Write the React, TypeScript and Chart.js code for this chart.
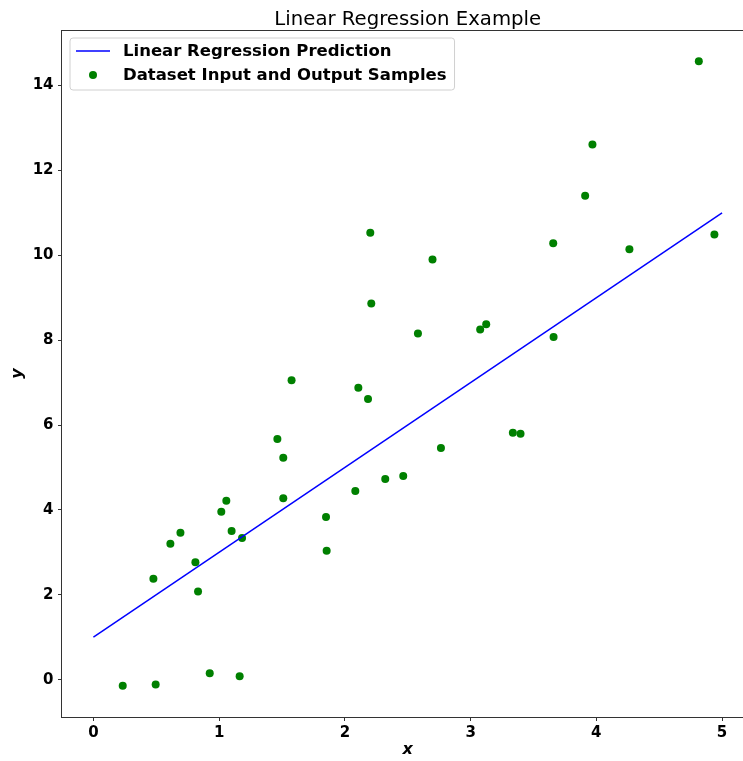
import React, { useEffect, useRef } from "react";
import { Chart, registerables } from "chart.js";

Chart.register(...registerables);

const titleText = "Linear Regression Example";
const lineLabel = "Linear Regression Prediction";
const sampleLabel = "Dataset Input and Output Samples";
const xTitle = "x";
const yTitle = "y";

const xTicks = [0, 1, 2, 3, 4, 5];
const yTicks = [0, 2, 4, 6, 8, 10, 12, 14];
const xRange = [-0.25, 5.25];
const yRange = [-0.88, 15.31];

const lineX = [0, 5];
const lineY = [1, 11];

const sampleX = [
  0.233, 0.495, 0.477, 0.612, 0.692, 0.811, 0.832, 0.925, 1.017, 1.057,
  1.099, 1.182, 1.163, 1.463, 1.51, 1.51, 1.576, 1.85, 1.855, 2.083,
  2.107, 2.184, 2.202, 2.21, 2.321, 2.464, 2.581, 2.697, 2.764, 3.076,
  3.124, 3.336, 3.397, 3.66, 3.657, 3.911, 3.969, 4.263, 4.815, 4.939,
];
const sampleY = [
  -0.146, -0.113, 2.377, 3.203, 3.462, 2.764, 2.08, 0.153, 3.958, 4.217,
  3.502, 3.337, 0.083, 5.672, 5.231, 4.274, 7.057, 3.833, 3.038, 4.446,
  6.882, 6.616, 10.531, 8.863, 4.729, 4.8, 8.16, 9.899, 5.46, 8.25,
  8.377, 5.821, 5.797, 8.075, 10.283, 11.403, 12.613, 10.146, 14.571, 10.491,
];

const FONT = '"DejaVu Sans", "Liberation Sans", sans-serif';
const CANVAS_W = 790;
const CANVAS_H = 761;

const framePlugin = {
  id: "mplFrame",
  afterDatasetsDraw(chart: any) {
    const { ctx, chartArea } = chart;
    ctx.save();
    ctx.strokeStyle = "#333333";
    ctx.lineWidth = 1;
    const l = Math.round(chartArea.left) - 0.5;
    const t = Math.round(chartArea.top) + 0.5;
    const r = Math.round(chartArea.right) + 0.5;
    const b = Math.round(chartArea.bottom) + 0.5;
    ctx.strokeRect(l, t, r - l, b - t);
    ctx.restore();
  },
};

const titlePlugin = {
  id: "mplTitle",
  afterDraw(chart: any) {
    const { ctx, chartArea } = chart;
    ctx.save();
    ctx.font = `19.7px ${FONT}`;
    ctx.fillStyle = "#000";
    ctx.textAlign = "center";
    ctx.textBaseline = "alphabetic";
    ctx.fillText(titleText, (chartArea.left + chartArea.right) / 2, chartArea.top - 5);
    ctx.restore();
  },
};

const legendPlugin = {
  id: "mplLegend",
  afterDatasetsDraw(chart: any) {
    const { ctx, chartArea } = chart;
    const ds = chart.data.datasets;
    ctx.save();
    ctx.font = `bold 16.5px ${FONT}`;
    const x0 = chartArea.left + 8;
    const y0 = chartArea.top + 8;
    const textX = x0 + 53;
    const maxW = Math.max(...ds.map((d: any) => ctx.measureText(d.label).width));
    const w = textX - x0 + maxW + 8;
    const h = 52;
    const rad = 3;
    ctx.beginPath();
    ctx.moveTo(x0 + rad, y0);
    ctx.lineTo(x0 + w - rad, y0);
    ctx.quadraticCurveTo(x0 + w, y0, x0 + w, y0 + rad);
    ctx.lineTo(x0 + w, y0 + h - rad);
    ctx.quadraticCurveTo(x0 + w, y0 + h, x0 + w - rad, y0 + h);
    ctx.lineTo(x0 + rad, y0 + h);
    ctx.quadraticCurveTo(x0, y0 + h, x0, y0 + h - rad);
    ctx.lineTo(x0, y0 + rad);
    ctx.quadraticCurveTo(x0, y0, x0 + rad, y0);
    ctx.closePath();
    ctx.fillStyle = "rgba(255,255,255,0.8)";
    ctx.fill();
    ctx.strokeStyle = "#d0d0d0";
    ctx.lineWidth = 1;
    ctx.stroke();

    ds.forEach((d: any, i: number) => {
      const cy = y0 + 13 + i * 24;
      if (d.showLine) {
        ctx.beginPath();
        ctx.strokeStyle = d.borderColor;
        ctx.lineWidth = d.borderWidth;
        ctx.moveTo(x0 + 6, cy);
        ctx.lineTo(x0 + 40, cy);
        ctx.stroke();
      } else {
        ctx.beginPath();
        ctx.fillStyle = d.backgroundColor;
        ctx.arc(x0 + 23, cy, d.pointRadius, 0, Math.PI * 2);
        ctx.fill();
      }
      ctx.fillStyle = "#000";
      ctx.textAlign = "left";
      ctx.textBaseline = "middle";
      ctx.fillText(d.label, textX, cy + 1);
    });
    ctx.restore();
  },
};

export default function App() {
  const ref = useRef<HTMLCanvasElement | null>(null);

  useEffect(() => {
    if (!ref.current) return;
    const chart = new Chart(ref.current, {
      type: "scatter",
      data: {
        datasets: [
          {
            label: lineLabel,
            data: lineX.map((x, i) => ({ x, y: lineY[i] })),
            showLine: true,
            borderColor: "#0000ff",
            backgroundColor: "#0000ff",
            borderWidth: 1.5,
            pointRadius: 0,
            pointHoverRadius: 0,
          } as any,
          {
            label: sampleLabel,
            data: sampleX.map((x, i) => ({ x, y: sampleY[i] })),
            showLine: false,
            backgroundColor: "#008000",
            borderColor: "#008000",
            borderWidth: 0,
            pointRadius: 4,
          } as any,
        ],
      },
      options: {
        responsive: false,
        animation: false,
        devicePixelRatio: 1,
        layout: { padding: { left: 0, top: 30, right: CANVAS_W - 753.5, bottom: 0 } },
        plugins: {
          legend: { display: false },
          title: { display: false },
          tooltip: { enabled: false },
        },
        scales: {
          x: {
            type: "linear",
            min: xRange[0],
            max: xRange[1],
            afterBuildTicks: (s: any) => {
              s.ticks = xTicks.map((v) => ({ value: v }));
            },
            afterFit: (s: any) => {
              s.height = 44;
            },
            grid: {
              display: true,
              drawOnChartArea: false,
              drawTicks: true,
              tickLength: 4,
              tickWidth: 1,
              tickColor: "#333333",
            },
            border: { display: false },
            ticks: {
              padding: 3,
              color: "#000",
              maxRotation: 0,
              autoSkip: false,
              font: { family: FONT, size: 15, weight: "bold" },
              callback: (v: any) => String(v),
            },
            title: {
              display: true,
              text: xTitle,
              color: "#000",
              font: { family: FONT, size: 16, weight: "bold", style: "italic" },
              padding: { top: 0, bottom: 1.5 },
            },
          },
          y: {
            type: "linear",
            min: yRange[0],
            max: yRange[1],
            afterBuildTicks: (s: any) => {
              s.ticks = yTicks.map((v) => ({ value: v }));
            },
            afterFit: (s: any) => {
              s.width = 62;
            },
            grid: {
              display: true,
              drawOnChartArea: false,
              drawTicks: true,
              tickLength: 4,
              tickWidth: 1,
              tickColor: "#333333",
            },
            border: { display: false },
            ticks: {
              padding: 4.5,
              color: "#000",
              autoSkip: false,
              font: { family: FONT, size: 15, weight: "bold" },
              callback: (v: any) => String(v),
            },
            title: {
              display: true,
              text: yTitle,
              color: "#000",
              font: { family: FONT, size: 16, weight: "bold", style: "italic" },
              padding: { top: 8.5, bottom: 0 },
            },
          },
        },
      },
      plugins: [framePlugin, legendPlugin, titlePlugin],
    });
    return () => chart.destroy();
  }, []);

  return (
    <div
      style={{
        position: "absolute",
        left: 0,
        top: 0,
        width: 743,
        height: 761,
        overflow: "hidden",
        background: "#fff",
      }}
    >
      <canvas
        ref={ref}
        width={CANVAS_W}
        height={CANVAS_H}
        style={{ display: "block", width: CANVAS_W, height: CANVAS_H }}
      />
    </div>
  );
}
